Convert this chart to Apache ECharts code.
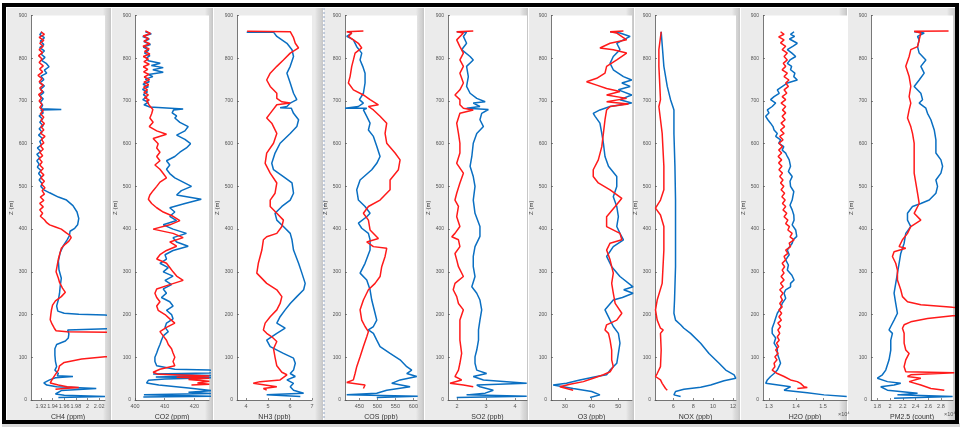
<!DOCTYPE html>
<html>
<head>
<meta charset="utf-8">
<script src="https://cdn.jsdelivr.net/npm/echarts@6/dist/echarts.min.js"></script>
<style>
html,body{margin:0;padding:0;background:#fff;}
#c{width:964px;height:430px;}
</style>
</head>
<body>
<div id="c"></div>
<script>
// ---------- DATA (value, altitude Z in m) ----------
const axisNames = ['CH4 (ppm)','CO2 (ppm)','NH3 (ppb)','COS (ppb)','SO2 (ppb)','O3 (ppb)','NOX (ppb)','H2O (ppb)','PM2.5 (count)'];
const xMins = [1.903, 400, 3.59, 410, 1.69, 24.8, 4.17, 1.278, 1.70];
const xMaxs = [2.030, 424.9, 7.0, 610, 4.41, 55.1, 12.3, 1.589, 2.99];
const xTicks = [
  [1.92,1.94,1.96,1.98,2,2.02],
  [400,410,420],
  [4,5,6,7],
  [450,500,550,600],
  [2,3,4],
  [30,40,50],
  [6,8,10,12],
  [1.3,1.4,1.5],
  [1.8,2,2.2,2.4,2.6,2.8]
];
const zTicks = [0,100,200,300,400,500,600,700,800,900];
const scaleNotes = ['','','','','','','','\u00d710\u2074','\u00d710\u2074'];

const ch4Blue = [[1.922,862],[1.918,855],[1.926,848],[1.919,840],[1.925,832],[1.918,825],[1.926,817],[1.920,810],[1.927,802],[1.921,795],[1.929,788],[1.934,780],[1.926,772],[1.930,765],[1.920,758],[1.925,750],[1.918,742],[1.926,735],[1.919,727],[1.925,720],[1.918,712],[1.924,705],[1.919,697],[1.923,690],[1.920,682],[1.955,680],[1.920,679],[1.924,672],[1.917,665],[1.923,657],[1.918,650],[1.924,642],[1.917,635],[1.922,627],[1.916,620],[1.923,612],[1.918,605],[1.921,597],[1.914,590],[1.920,582],[1.913,575],[1.918,567],[1.913,560],[1.917,552],[1.914,545],[1.920,537],[1.916,530],[1.921,522],[1.917,515],[1.922,507],[1.920,500],[1.925,492],[1.935,485],[1.950,475],[1.964,468],[1.975,455],[1.982,440],[1.985,425],[1.983,410],[1.978,402],[1.970,395],[1.969,385],[1.965,375],[1.958,360],[1.953,345],[1.950,325],[1.951,305],[1.955,285],[1.953,265],[1.952,250],[1.950,235],[1.947,220],[1.949,208],[1.960,203],[1.985,201],[2.030,199],[2.100,190],[2.100,170],[1.966,164],[1.968,155],[1.967,145],[1.962,138],[1.947,130],[1.944,120],[1.944,105],[1.945,90],[1.947,78],[1.944,70],[1.950,62],[1.948,57],[1.975,55],[1.945,52],[1.935,47],[1.925,40],[1.930,35],[1.947,31],[2.015,27],[1.955,22],[1.952,18],[1.945,14],[1.960,11],[2.030,8],[1.950,6]];
const ch4Red = [[1.920,862],[1.926,856],[1.917,849],[1.925,842],[1.918,835],[1.924,828],[1.917,820],[1.923,813],[1.916,806],[1.922,798],[1.917,790],[1.924,782],[1.918,775],[1.923,768],[1.915,760],[1.922,752],[1.917,745],[1.924,737],[1.918,730],[1.923,722],[1.916,715],[1.921,707],[1.917,700],[1.922,692],[1.918,685],[1.924,677],[1.919,670],[1.925,662],[1.920,655],[1.926,647],[1.920,640],[1.925,632],[1.919,625],[1.927,617],[1.921,610],[1.925,602],[1.919,595],[1.924,587],[1.918,580],[1.923,572],[1.917,565],[1.922,557],[1.918,550],[1.924,542],[1.919,535],[1.925,527],[1.920,520],[1.926,512],[1.921,505],[1.927,497],[1.922,490],[1.926,482],[1.919,475],[1.925,467],[1.918,460],[1.924,452],[1.918,445],[1.923,437],[1.919,430],[1.926,422],[1.930,415],[1.935,410],[1.945,405],[1.955,400],[1.963,392],[1.970,385],[1.972,380],[1.968,372],[1.962,365],[1.955,355],[1.953,345],[1.950,330],[1.948,315],[1.946,300],[1.950,285],[1.952,275],[1.957,262],[1.962,252],[1.955,242],[1.945,232],[1.940,222],[1.938,210],[1.937,200],[1.936,188],[1.939,178],[1.943,168],[1.946,162],[1.965,160],[2.100,157],[2.100,106],[2.030,101],[1.990,96],[1.960,88],[1.952,80],[1.950,70],[1.945,60],[1.940,50],[1.938,45],[1.936,40],[1.950,35],[1.965,31],[1.985,29],[1.960,27],[1.945,25]];

const co2Blue = [[403.5,862],[405.5,857],[402.6,851],[404.8,845],[403.0,839],[405.2,832],[402.8,826],[404.6,819],[403.2,812],[405.0,806],[403.8,800],[404.5,794],[408.5,788],[405.5,783],[409.5,778],[406,773],[409.5,767],[404.5,762],[406,757],[403.5,751],[404.8,745],[402.7,739],[404.5,733],[402.5,727],[404.2,721],[402.8,715],[404.0,709],[402.6,703],[404.5,697],[403.0,691],[405.0,686],[404.5,682],[416.2,681],[413,679],[412.5,672],[414,665],[413.4,660],[415.1,650],[417.9,640],[416.8,630],[414,620],[416.8,610],[418.7,600],[417.3,590],[415.1,580],[413.4,570],[410.6,560],[411.7,550],[410.6,540],[411.7,530],[413.4,520],[416.2,510],[419,500],[415.6,490],[414,480],[422.3,470],[416.8,460],[411.7,450],[413.4,440],[411.7,430],[414,420],[409.5,410],[412.8,400],[417.3,390],[412.8,380],[414,370],[417.9,360],[412.8,350],[410.1,340],[410.6,330],[408.4,320],[411.2,310],[409.5,300],[412.8,290],[410.1,280],[412.3,270],[409.5,260],[410.6,250],[408.9,240],[411.7,230],[412.8,220],[410.6,210],[412.3,200],[412.8,190],[410.6,180],[410.1,170],[411.2,160],[409.5,150],[408.9,140],[408.4,130],[407.8,120],[407.3,110],[406.7,100],[406.7,90],[407.3,80],[413.4,72],[424.9,70],[430,68],[425,63],[406.1,61],[426,57],[407,54],[426,52],[410,49],[404.5,46],[403.9,40],[408,35],[418,28],[426,22],[418,18],[426,15],[403,12],[426,9],[402.8,7]];
const co2Red = [[403.5,864],[405.2,858],[402.8,852],[404.6,846],[403.0,840],[405.0,834],[402.7,828],[404.8,822],[403.2,816],[405.0,810],[402.8,804],[404.5,798],[403.0,792],[404.8,786],[402.8,780],[404.3,774],[402.9,768],[404.7,762],[403.1,756],[404.9,750],[403.0,744],[404.6,738],[402.9,732],[404.2,726],[403.0,720],[404.5,714],[403.2,708],[404.8,702],[403.9,700],[404.8,690],[406,680],[405.6,670],[405,660],[406.1,650],[404.8,640],[407.3,630],[410.6,622],[406.1,612],[407.8,600],[407.3,590],[408.4,580],[407.3,570],[408.4,560],[406.7,550],[408.4,540],[409.5,530],[410.6,520],[408.4,510],[407.3,500],[406.1,490],[405,480],[404.5,470],[405.6,460],[407.3,450],[409.5,440],[412.8,430],[415.1,420],[411.7,410],[406.1,400],[412.8,390],[416.2,380],[411.7,370],[414,360],[410.6,350],[408.4,340],[407.3,330],[410.6,320],[411.7,310],[412.8,300],[414,290],[416.2,280],[411.7,270],[407.3,260],[406.7,250],[407.3,240],[408.4,230],[407.3,220],[407.8,210],[410.1,200],[411.7,190],[413.4,180],[410.6,170],[408.4,160],[409.5,150],[410.6,140],[411.2,130],[412.3,120],[412.8,110],[413.4,100],[412.8,90],[413.4,80],[408.4,72],[406.1,65],[408,60],[425,56],[414,53],[425,51],[418,48],[425,44],[421,40],[425,37],[419,35]];

const nh3Blue = [[4.03,861],[5.25,861],[5.25,858],[5.40,851],[5.86,835],[6.09,820],[6.16,804],[6.01,781],[5.86,765],[6.01,742],[6.16,718],[6.31,703],[6.01,695],[5.86,687],[5.55,684],[6.06,683],[6.16,671],[6.39,656],[6.31,640],[6.01,624],[5.55,601],[5.32,578],[5.17,554],[5.25,539],[5.70,523],[6.09,508],[6.16,484],[6.01,468],[5.63,453],[5.32,437],[5.40,421],[5.70,406],[6.01,390],[6.09,375],[6.16,351],[6.39,320],[6.54,297],[6.69,273],[6.62,258],[6.31,242],[6.01,226],[5.78,211],[5.55,195],[5.40,180],[5.78,168],[5.40,156],[4.94,140],[5.10,125],[5.70,109],[6.16,98],[6.24,86],[6.16,70],[6.01,62],[6.24,55],[5.86,47],[6.16,39],[6.01,31],[6.16,23],[6.62,16],[4.94,12],[6.47,8]];
const nh3Red = [[4.05,863],[6.01,862],[5.95,858],[6.16,848],[6.24,835],[6.39,824],[6.01,812],[5.70,796],[5.40,781],[5.10,765],[4.94,749],[5.10,734],[5.40,718],[5.40,706],[5.63,698],[6.01,695],[5.40,691],[5.32,687],[5.10,671],[4.94,660],[5.17,648],[5.40,624],[5.25,601],[4.94,578],[4.87,554],[5.10,531],[5.40,508],[5.32,484],[5.10,468],[5.10,453],[5.40,437],[5.70,421],[5.63,406],[5.40,390],[4.94,382],[4.79,375],[4.72,351],[4.56,320],[4.49,297],[4.94,273],[5.40,258],[5.63,242],[5.55,226],[5.40,211],[5.10,195],[4.87,180],[4.79,164],[4.94,156],[5.17,148],[5.40,137],[5.25,120],[5.32,100],[5.40,80],[5.63,65],[5.86,59],[5.55,47],[4.64,43],[4.33,39],[5.40,31],[4.79,27],[4.94,23]];

const cosBlue = [[419.4,862],[428.7,859],[414.8,851],[433.3,843],[442.6,827],[456.5,812],[451.9,796],[459.3,781],[465.7,765],[465.7,742],[461.1,718],[450,703],[461.1,695],[447.2,687],[410.2,683],[470.4,683],[461.1,679],[470.4,664],[479.6,648],[475,632],[488.9,617],[498.2,594],[507.4,570],[498.2,554],[484.3,539],[451.9,515],[442.6,492],[447.2,468],[465.7,453],[479.6,437],[470.4,429],[447.2,414],[456.5,402],[475,390],[479.6,375],[479.6,351],[465.7,320],[451.9,297],[470.4,281],[479.6,258],[484.3,234],[493.5,203],[498.2,187],[488.9,172],[475,164],[488.9,156],[498.2,140],[507.4,125],[535.2,109],[563,94],[581.5,78],[595.4,70],[581.5,62],[609.3,55],[563,47],[539.8,39],[590.8,31],[526,23],[498.2,16],[414.8,12],[612,9],[498.2,6]];
const cosRed = [[461.1,864],[414.8,862],[428.7,859],[419.4,851],[447.2,835],[456.5,824],[438,812],[433.3,796],[428.7,781],[424.1,757],[419.4,742],[433.3,726],[461.1,714],[479.6,703],[502.8,691],[475,687],[488.9,679],[507.4,664],[525.9,648],[521.3,624],[525.9,601],[549.1,578],[563,562],[558.3,539],[535.2,515],[535.2,492],[507.4,468],[475,453],[461.1,437],[475,421],[479.6,398],[502.8,378],[470.4,370],[488.9,359],[525.9,355],[521.3,336],[512,312],[507.4,289],[493.5,273],[475,258],[461.1,234],[451.9,211],[456.5,187],[465.7,172],[475,160],[470.4,148],[461.1,125],[451.9,101],[442.6,78],[438,62],[433.3,47],[414.8,41],[465.7,35],[461.1,27]];

const so2Blue = [[1.99,862],[2.33,861],[2.22,851],[2.33,835],[2.16,820],[2.45,804],[2.56,796],[2.33,781],[2.39,757],[2.33,734],[2.45,718],[2.68,706],[2.97,698],[2.56,695],[2.79,687],[2.33,683],[3.08,680],[2.85,671],[2.79,656],[2.91,640],[2.68,624],[2.56,601],[2.51,570],[2.45,547],[2.56,523],[2.62,500],[2.56,468],[2.62,437],[2.79,406],[2.79,383],[2.62,359],[2.56,336],[2.56,312],[2.62,289],[2.51,265],[2.68,250],[2.79,234],[2.85,211],[2.79,187],[2.74,164],[2.74,140],[2.68,117],[2.62,101],[2.62,86],[2.68,70],[3.02,62],[2.56,55],[2.91,47],[4.40,39],[2.68,35],[2.79,31],[3.25,23],[2.97,16],[2.33,12],[4.40,9],[1.99,6]];
const so2Red = [[2.56,864],[1.99,862],[2.22,859],[1.99,843],[2.10,827],[2.22,812],[2.10,796],[2.22,781],[2.10,765],[2.22,742],[2.10,726],[1.93,714],[2.10,703],[2.10,691],[2.22,683],[2.56,679],[2.10,671],[1.99,648],[2.05,624],[2.10,601],[2.10,578],[1.99,554],[2.22,531],[2.10,508],[1.99,484],[1.93,468],[2.05,453],[1.99,429],[2.10,406],[1.93,390],[1.82,382],[2.05,375],[2.10,359],[1.93,343],[1.99,328],[2.05,312],[2.22,289],[1.93,273],[1.87,258],[1.99,242],[2.05,226],[2.22,211],[2.10,187],[2.10,164],[2.10,140],[2.16,109],[2.10,86],[2.05,70],[1.93,55],[2.16,47],[1.76,39],[2.22,35],[2.56,31]];

const o3Blue = [[46.9,862],[50.6,859],[54.4,851],[51.9,843],[49.4,835],[50.6,820],[48.1,804],[46.9,788],[48.1,773],[51.9,757],[55,749],[51.3,742],[54.4,734],[50,726],[55,714],[50.6,703],[55,695],[46.9,687],[43.1,679],[40.6,671],[41.3,664],[43.1,648],[43.8,624],[44.4,601],[45,570],[46.3,547],[49.4,523],[49.4,500],[48.1,476],[49.4,453],[50,429],[49.4,406],[50.6,390],[51.9,375],[48.1,359],[45.6,336],[47.5,312],[50.6,289],[55.5,265],[52,258],[55.5,250],[51.5,240],[48.1,234],[45,211],[46.9,187],[48.1,172],[50,156],[50.6,133],[50,109],[49.4,86],[46.9,70],[45.6,59],[41.9,55],[35.6,47],[30.6,39],[25.6,35],[33.1,27],[40,20],[43.1,12],[39.4,6]];
const o3Red = [[51.9,864],[46.9,862],[49.4,859],[53.1,843],[46.9,835],[43.1,824],[48.1,820],[53.1,812],[49.4,796],[45.6,781],[45,765],[41.9,753],[38.1,745],[41.9,737],[45.6,729],[50.6,722],[45.6,714],[53.1,706],[45.6,698],[53.8,693],[46.9,687],[45.6,679],[45,656],[44.4,624],[43.8,593],[42.5,562],[40.6,539],[40.6,523],[42.5,508],[46.9,492],[51.3,472],[48.8,453],[45.6,429],[45.6,406],[50.6,390],[51.3,375],[46.9,367],[45.6,351],[46.9,328],[48.1,297],[47.5,273],[48.1,250],[48.8,226],[51.3,203],[49.4,187],[45.6,176],[45,164],[46.3,156],[46.9,140],[47.5,117],[47.5,94],[48.1,78],[46.9,66],[44.4,59],[40.6,51],[36.9,43],[31.9,37],[28.1,31],[33.1,23]];

const noxBlue = [[4.79,862],[5.06,781],[5.40,734],[5.73,703],[6.0,684],[6.07,679],[6.07,624],[6.17,547],[6.23,468],[6.23,390],[6.23,312],[6.13,234],[6.07,203],[6.23,187],[6.74,176],[7.07,168],[7.74,156],[8.75,133],[9.59,109],[10.6,86],[11.27,70],[12.11,59],[12.28,51],[11.1,45],[9.76,35],[8.75,30],[7.07,25],[6.23,20],[6.07,12],[6.74,8]];
const noxRed = [[4.79,862],[4.56,820],[4.56,781],[4.72,703],[4.56,687],[4.89,624],[5.06,547],[5.06,492],[4.72,468],[4.22,449],[4.72,433],[5.06,406],[5.06,351],[4.89,273],[4.39,234],[4.22,211],[4.39,187],[4.72,168],[4.99,164],[4.72,156],[4.79,117],[4.72,78],[4.39,62],[4.22,55],[4.72,47],[4.89,39],[5.23,27],[5.40,23]];

// H2O and PM2.5 in units of 10^4
const h2oBlue = [[1.393,862],[1.380,856],[1.395,851],[1.376,845],[1.405,835],[1.388,828],[1.368,820],[1.385,812],[1.399,804],[1.378,796],[1.368,788],[1.384,781],[1.380,773],[1.396,765],[1.392,757],[1.405,749],[1.368,742],[1.350,734],[1.331,726],[1.338,718],[1.319,710],[1.306,703],[1.325,695],[1.312,687],[1.294,679],[1.300,672],[1.288,664],[1.296,656],[1.306,648],[1.315,640],[1.319,632],[1.331,624],[1.325,617],[1.343,609],[1.336,601],[1.355,593],[1.349,585],[1.362,578],[1.368,570],[1.375,562],[1.380,547],[1.372,535],[1.386,523],[1.378,512],[1.380,500],[1.392,488],[1.386,468],[1.378,456],[1.386,445],[1.392,433],[1.393,421],[1.386,410],[1.399,398],[1.403,383],[1.390,375],[1.386,367],[1.368,351],[1.375,340],[1.362,328],[1.372,316],[1.368,304],[1.385,292],[1.393,281],[1.380,273],[1.380,265],[1.362,258],[1.356,250],[1.362,238],[1.349,226],[1.343,215],[1.331,203],[1.325,192],[1.319,180],[1.312,168],[1.312,156],[1.325,145],[1.319,133],[1.331,121],[1.331,109],[1.337,98],[1.343,86],[1.331,70],[1.319,62],[1.306,55],[1.294,47],[1.288,39],[1.380,31],[1.356,23],[1.442,17],[1.504,12],[1.588,8]];
const h2oRed = [[1.343,862],[1.356,856],[1.336,850],[1.356,843],[1.343,836],[1.362,828],[1.349,820],[1.368,812],[1.356,804],[1.368,796],[1.353,788],[1.362,781],[1.349,773],[1.368,765],[1.356,757],[1.374,749],[1.362,742],[1.372,734],[1.356,726],[1.366,718],[1.349,710],[1.362,703],[1.345,695],[1.362,687],[1.350,679],[1.362,672],[1.349,664],[1.360,656],[1.345,648],[1.358,640],[1.343,632],[1.356,624],[1.340,617],[1.352,609],[1.337,601],[1.350,593],[1.336,585],[1.347,578],[1.334,570],[1.347,562],[1.336,555],[1.348,547],[1.337,539],[1.350,531],[1.340,523],[1.352,515],[1.343,508],[1.355,500],[1.345,492],[1.358,484],[1.348,476],[1.360,468],[1.350,460],[1.362,453],[1.352,445],[1.366,437],[1.356,429],[1.370,421],[1.362,413],[1.376,406],[1.370,398],[1.386,390],[1.378,382],[1.393,375],[1.375,367],[1.380,359],[1.362,351],[1.370,343],[1.356,336],[1.362,328],[1.349,320],[1.358,312],[1.349,304],[1.356,297],[1.345,289],[1.356,281],[1.343,273],[1.353,265],[1.340,258],[1.352,250],[1.343,242],[1.350,234],[1.340,226],[1.349,218],[1.337,211],[1.347,203],[1.337,195],[1.346,187],[1.333,180],[1.343,172],[1.333,164],[1.340,156],[1.331,148],[1.338,140],[1.328,133],[1.336,125],[1.325,117],[1.334,109],[1.322,101],[1.330,94],[1.319,86],[1.322,78],[1.312,70],[1.331,62],[1.356,55],[1.380,47],[1.405,43],[1.417,39],[1.430,31],[1.442,29],[1.405,27]];

const pmBlue = [[2.379,862],[2.537,859],[2.432,851],[2.458,843],[2.432,827],[2.458,812],[2.563,796],[2.484,781],[2.537,765],[2.458,749],[2.379,734],[2.484,718],[2.511,703],[2.458,695],[2.563,683],[2.589,671],[2.642,656],[2.695,632],[2.721,609],[2.721,593],[2.721,578],[2.8,562],[2.826,547],[2.8,531],[2.721,515],[2.747,500],[2.721,484],[2.616,468],[2.484,460],[2.353,453],[2.274,437],[2.274,421],[2.326,406],[2.247,390],[2.221,367],[2.168,343],[2.142,320],[2.116,297],[2.089,273],[2.063,250],[2.089,226],[2.116,203],[2.063,187],[2.011,172],[1.984,164],[2.037,156],[2.011,140],[2.011,117],[1.984,94],[1.932,70],[1.879,59],[1.8,51],[1.958,43],[2.168,39],[2.063,35],[1.853,31],[1.958,23],[2.432,16],[2.116,12],[2.984,8],[2.063,4]];
const pmRed = [[2.92,864],[2.379,863],[2.484,859],[2.458,843],[2.432,827],[2.326,820],[2.3,804],[2.247,781],[2.3,757],[2.326,734],[2.3,710],[2.326,695],[2.3,679],[2.274,660],[2.326,640],[2.353,624],[2.379,601],[2.379,578],[2.379,554],[2.379,531],[2.405,508],[2.432,484],[2.458,460],[2.379,437],[2.484,421],[2.326,406],[2.274,390],[2.195,375],[2.142,359],[2.247,355],[2.063,347],[2.037,336],[2.089,320],[2.116,304],[2.116,281],[2.168,258],[2.195,242],[2.274,230],[2.484,223],[2.984,217],[3.2,215],[3.2,199],[2.984,197],[2.589,191],[2.326,183],[2.221,176],[2.195,168],[2.221,156],[2.221,133],[2.247,117],[2.3,109],[2.247,94],[2.221,78],[2.247,66],[3.01,64],[2.326,59],[2.274,55],[2.484,51],[2.3,43],[2.484,35],[2.642,27],[2.853,23]];

const blueSeries = [ch4Blue, co2Blue, nh3Blue, cosBlue, so2Blue, o3Blue, noxBlue, h2oBlue, pmBlue];
const redSeries  = [ch4Red,  co2Red,  nh3Red,  cosRed,  so2Red,  o3Red,  noxRed,  h2oRed,  pmRed];

// ---------- LAYOUT ----------
const plotX = [[31,105],[135,209],[237,312],[345,417],[448,527],[551,632],[655,736],[763,847],[871,953]];
const panelX = [[7,111],[112,213],[214,323],[324,424],[425,528],[529,634],[635,740],[741,847],[848,955]];
const PLOT_TOP = 15.5, PLOT_H = 384.5;
const BLUE = '#0a6fc2', RED = '#ff1a1a';
const FONT = 'Liberation Sans, Arial, sans-serif';

const chart = echarts.init(document.getElementById('c'), null, {renderer:'canvas', width:964, height:430});

const grids = [], xAxes = [], yAxes = [], series = [], graphics = [];

// panel backgrounds
panelX.forEach(([a,b]) => {
  graphics.push({type:'rect', z:-10, shape:{x:a, y:8, width:b-a, height:413}, style:{fill:'#ebebeb'}});
  graphics.push({type:'rect', z:-9, shape:{x:b-8, y:8, width:8, height:413},
    style:{fill:new echarts.graphic.LinearGradient(0,0,1,0,[{offset:0,color:'rgba(200,200,200,0)'},{offset:0.7,color:'#d2d2d2'},{offset:1,color:'#c4c4c4'}])}});
});
// faint dotted separator between NH3 and COS panels
graphics.push({type:'line', z:-8, shape:{x1:324, y1:8, x2:324, y2:421}, style:{stroke:'#8fa3c4', lineWidth:1, lineDash:[2,2]}});
// outer black frame + shadow
graphics.push({type:'rect', z:-7, shape:{x:2, y:423, width:958, height:4}, style:{fill:'#d8d8d8'}});
graphics.push({type:'rect', z:50, shape:{x:4, y:5, width:953, height:417}, style:{fill:null, stroke:'#000', lineWidth:4}});

for (let i = 0; i < 9; i++) {
  const [l, r] = plotX[i];
  grids.push({left:l, top:PLOT_TOP, width:r-l, height:PLOT_H, show:true, backgroundColor:'#ffffff', borderWidth:0, containLabel:false});
  xAxes.push({
    type:'value', gridIndex:i, min:xMins[i], max:xMaxs[i],
    name:axisNames[i], nameLocation:'middle', nameGap:13,
    nameTextStyle:{fontSize:7, color:'#333', fontFamily:FONT},
    axisLine:{show:true, lineStyle:{color:'#555', width:0.8}},
    axisTick:{show:true, inside:true, length:2, customValues:xTicks[i], lineStyle:{color:'#555', width:0.7}},
    axisLabel:{show:true, customValues:xTicks[i], fontSize:5.5, color:'#555', margin:3, fontFamily:FONT,
      showMinLabel:true, showMaxLabel:true, formatter:v => String(Math.round(v*1000)/1000)},
    splitLine:{show:false}
  });
  yAxes.push({
    type:'value', gridIndex:i, min:0, max:900,
    name:'Z (m)', nameLocation:'middle', nameGap:17, nameRotate:90,
    nameTextStyle:{fontSize:6, color:'#333', fontFamily:FONT},
    axisLine:{show:true, lineStyle:{color:'#555', width:0.8}},
    axisTick:{show:true, inside:true, length:2, customValues:zTicks, lineStyle:{color:'#555', width:0.7}},
    axisLabel:{show:true, customValues:zTicks, fontSize:5, color:'#555', margin:4, fontFamily:FONT},
    splitLine:{show:false}
  });
  series.push({type:'line', xAxisIndex:i, yAxisIndex:i, data:blueSeries[i], showSymbol:false, symbol:'none',
    lineStyle:{color:BLUE, width:1.5}, clip:true, animation:false, z:2});
  series.push({type:'line', xAxisIndex:i, yAxisIndex:i, data:redSeries[i], showSymbol:false, symbol:'none',
    lineStyle:{color:RED, width:1.5}, clip:true, animation:false, z:3});
  if (scaleNotes[i]) {
    graphics.push({type:'text', z:20, x:r-9, y:411, style:{text:scaleNotes[i], fontSize:5.5, fill:'#555', fontFamily:FONT}});
  }
}

chart.setOption({
  backgroundColor:'#ffffff',
  animation:false,
  grid:grids, xAxis:xAxes, yAxis:yAxes, series:series,
  graphic:{elements:graphics}
});
</script>
</body>
</html>
